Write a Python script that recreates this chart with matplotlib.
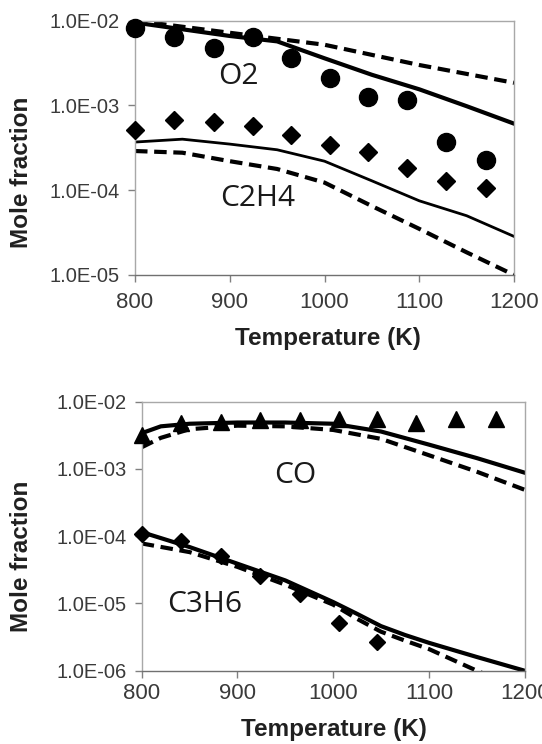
import numpy as np
import matplotlib
matplotlib.use("Agg")
import matplotlib.pyplot as plt
from matplotlib.ticker import FixedLocator, FuncFormatter, NullLocator

plt.rcParams['font.family'] = ['Liberation Sans', 'DejaVu Sans']

# ---- top panel: O2 and C2H4 ----
t_exp = [800, 841, 883, 924, 965, 1006, 1046, 1087, 1128, 1170]
o2_exp = [8.2e-3, 6.4e-3, 4.8e-3, 6.5e-3, 3.6e-3, 2.1e-3, 1.26e-3, 1.15e-3, 3.7e-4, 2.3e-4]
c2h4_exp = [5.1e-4, 6.8e-4, 6.4e-4, 5.7e-4, 4.5e-4, 3.4e-4, 2.85e-4, 1.85e-4, 1.29e-4, 1.07e-4]

t_o2_solid = [800, 900, 950, 1000, 1050, 1100, 1150, 1200]
o2_solid = [9.5e-3, 6.6e-3, 5.7e-3, 3.6e-3, 2.3e-3, 1.55e-3, 9.8e-4, 6.1e-4]
t_o2_dash = [800, 900, 1000, 1100, 1200]
o2_dash = [1.0e-2, 7.2e-3, 5.2e-3, 3.0e-3, 1.85e-3]

t_mod = [800, 850, 900, 950, 1000, 1050, 1100, 1150, 1200]
c2h4_solid = [3.7e-4, 4.0e-4, 3.5e-4, 3.0e-4, 2.2e-4, 1.29e-4, 7.5e-5, 5.0e-5, 2.85e-5]
c2h4_dash = [2.9e-4, 2.77e-4, 2.2e-4, 1.78e-4, 1.23e-4, 6.5e-5, 3.5e-5, 1.85e-5, 1.0e-5]

# ---- bottom panel: CO and C3H6 ----
co_exp = [3.2e-3, 4.9e-3, 5.0e-3, 5.4e-3, 5.4e-3, 5.5e-3, 5.5e-3, 4.9e-3, 5.5e-3, 5.5e-3]
t_c3h6_exp = [800, 841, 883, 924, 965, 1006, 1046]
c3h6_exp = [1.07e-4, 8.5e-5, 5.1e-5, 2.6e-5, 1.37e-5, 5.1e-6, 2.7e-6]

t_mod2 = [800, 820, 850, 900, 950, 1000, 1050, 1100, 1150, 1200]
co_solid = [3.4e-3, 4.3e-3, 4.7e-3, 4.9e-3, 4.9e-3, 4.7e-3, 3.6e-3, 2.3e-3, 1.45e-3, 8.8e-4]
co_dash = [2.1e-3, 2.9e-3, 3.9e-3, 4.4e-3, 4.3e-3, 3.8e-3, 2.8e-3, 1.6e-3, 9.1e-4, 4.9e-4]

t_c3h6_mod = [800, 850, 900, 950, 1000, 1025, 1050, 1075, 1100, 1150, 1200]
c3h6_solid = [1.15e-4, 6.9e-5, 3.9e-5, 2.2e-5, 1.05e-5, 7.0e-6, 4.6e-6, 3.4e-6, 2.6e-6, 1.6e-6, 1.0e-6]
c3h6_dash = [7.8e-5, 5.8e-5, 3.5e-5, 1.9e-5, 9.6e-6, 5.9e-6, 3.8e-6, 2.8e-6, 2.1e-6, 1.0e-6, 5.0e-7]

x_ticks = [800, 900, 1000, 1100, 1200]

fig = plt.figure(figsize=(5.42, 7.44), dpi=100)
ax1 = fig.add_axes([0.2491, 0.6304, 0.6993, 0.3418])
ax2 = fig.add_axes([0.2614, 0.0985, 0.7066, 0.3616])

dash = (3.0, 1.6)


def style(ax, ymin, ymax, xlab_xy, ylab_xy, xpad):
    ax.set_xlim(800, 1200)
    ax.set_yscale('log')
    ax.set_ylim(ymin, ymax)
    ax.xaxis.set_major_locator(FixedLocator(x_ticks))
    ax.yaxis.set_major_locator(FixedLocator(10.0 ** np.arange(np.log10(ymin), np.log10(ymax) + 0.5)))
    ax.yaxis.set_minor_locator(NullLocator())
    ax.yaxis.set_major_formatter(FuncFormatter(lambda v, p: f"{v:.1E}"))
    for s in ['left', 'top', 'right']:
        ax.spines[s].set_color('#a8a8a8')
        ax.spines[s].set_linewidth(1.0)
    ax.spines['bottom'].set_color('#707070')
    ax.spines['bottom'].set_linewidth(1.0)
    ax.tick_params(axis='y', direction='out', length=5, width=1, color='#808080',
                   labelsize=14.5, labelcolor='#3a3a3a', pad=6)
    ax.tick_params(axis='x', direction='out', length=5, width=1, color='#808080',
                   labelsize=16, labelcolor='#3a3a3a', pad=xpad)
    ax.set_xlabel('Temperature (K)', fontsize=17.5, fontweight='bold', color='#202020')
    ax.set_ylabel('Mole fraction', fontsize=17.5, fontweight='bold', color='#202020')
    ax.xaxis.set_label_coords(xlab_xy[0], xlab_xy[1])
    ax.yaxis.set_label_coords(ylab_xy[0], ylab_xy[1])


label_font = ['Open Sans', 'DejaVu Sans']

# top panel
ax1.plot(t_o2_solid, o2_solid, color='black', lw=3.0)
ax1.plot(t_o2_dash, o2_dash, color='black', lw=3.0, dashes=dash)
ax1.plot(t_mod, c2h4_solid, color='black', lw=2.0)
ax1.plot(t_mod, c2h4_dash, color='black', lw=3.0, dashes=dash)
ax1.plot(t_exp, o2_exp, 'o', color='black', ms=13, zorder=5, clip_on=False)
ax1.plot(t_exp, c2h4_exp, 'D', color='black', ms=9, zorder=5, clip_on=False)
ax1.text(909, 2.2e-3, 'O2', fontsize=21.5, ha='center', va='center', family=label_font, color='#1a1a1a')
ax1.text(929, 7.9e-5, 'C2H4', fontsize=21.5, ha='center', va='center', family=label_font, color='#1a1a1a')
style(ax1, 1e-5, 1e-2, (0.509, -0.205), (-0.269, 0.402), 7)

# bottom panel
ax2.plot(t_mod2, co_solid, color='black', lw=3.0)
ax2.plot(t_mod2, co_dash, color='black', lw=3.0, dashes=dash)
ax2.plot(t_c3h6_mod, c3h6_solid, color='black', lw=3.0)
ax2.plot(t_c3h6_mod, c3h6_dash, color='black', lw=3.0, dashes=dash)
ax2.plot(t_exp, co_exp, '^', color='black', ms=11, zorder=5, clip_on=False)
ax2.plot(t_c3h6_exp, c3h6_exp, 'D', color='black', ms=8.5, zorder=5, clip_on=False)
ax2.text(960, 8.1e-4, 'CO', fontsize=21.5, ha='center', va='center', family=label_font, color='#1a1a1a')
ax2.text(866, 9.5e-6, 'C3H6', fontsize=21.5, ha='center', va='center', family=label_font, color='#1a1a1a')
style(ax2, 1e-6, 1e-2, (0.501, -0.175), (-0.284, 0.426), 4)

fig.savefig('out.png', dpi=100)
